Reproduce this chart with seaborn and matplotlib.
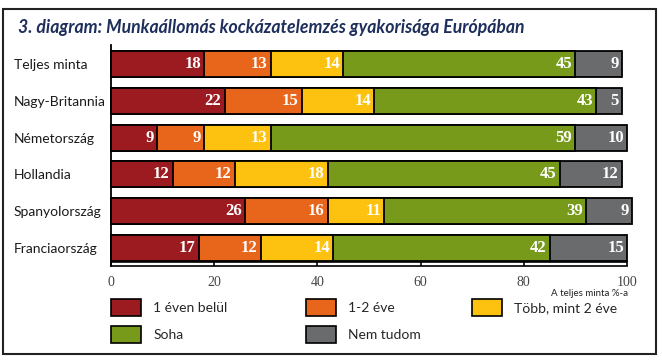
import numpy as np
import pandas as pd
import seaborn as sns
import matplotlib.pyplot as plt
from matplotlib.patches import Rectangle, Patch

# Data (% of sample)
countries = ['Teljes minta', 'Nagy-Britannia', 'Németország', 'Hollandia',
             'Spanyolország', 'Franciaország']
series = ['1 éven belül', '1-2 éve', 'Több, mint 2 éve', 'Soha', 'Nem tudom']
within_1y = [18, 22, 9, 12, 26, 17]
one_two_y = [13, 15, 9, 12, 16, 12]
more_2y = [14, 14, 13, 18, 11, 14]
never = [45, 43, 59, 45, 39, 42]
dont_know = [9, 5, 10, 12, 9, 15]
xticks = [0, 20, 40, 60, 80, 100]

colors = ['#9c1b21', '#e8661c', '#fdc110', '#779a1b', '#6a6b6d']

df = pd.DataFrame({'country': countries, series[0]: within_1y, series[1]: one_two_y,
                   series[2]: more_2y, series[3]: never, series[4]: dont_know})
cum = df[series].cumsum(axis=1)

sns.set_style('white')
plt.rcParams['font.family'] = ['Lato', 'DejaVu Sans']

fig = plt.figure(figsize=(6.62, 3.63), dpi=100)
W, H = 662, 363
ax = fig.add_axes([111 / W, 1 - 266 / H, 516 / W, 221 / H])

# stacked bars: draw cumulative totals from the largest down
for s, c in reversed(list(zip(series, colors))):
    sns.barplot(data=cum.assign(country=countries), x=s, y='country', orient='h',
                color=c, edgecolor='black', linewidth=1.3, width=0.71,
                saturation=1, ax=ax, order=countries)
for bar in ax.patches:
    bar.set_clip_on(False)

# segment labels
for i in range(len(countries)):
    for s in series:
        ax.text(cum.loc[i, s] - 0.6, i, str(df.loc[i, s]), ha='right', va='center',
                color='white', fontsize=12, fontweight='bold',
                family='Liberation Serif')

ax.set_xlim(0, 100)
ax.set_ylim(5.49, -0.52)
ax.set_xlabel('')
ax.set_ylabel('')
ax.set_xticks(xticks)
ax.set_xticklabels([str(t) for t in xticks], family='Liberation Serif',
                   fontsize=10, color='#444444')
ax.tick_params(axis='x', direction='in', length=3.5, width=1.2, color='black', pad=7,
               bottom=True)
ax.tick_params(axis='y', length=0, pad=70)
for lab in ax.get_yticklabels():
    lab.set_ha('left')
    lab.set_fontsize(10)
    lab.set_color('#1a1a1a')
ax.axhline(5.38, color='black', lw=1.2)
for side in ['top', 'right']:
    ax.spines[side].set_visible(False)
ax.spines['left'].set_color('black')
ax.spines['left'].set_linewidth(1.3)
ax.spines['bottom'].set_color('black')
ax.spines['bottom'].set_linewidth(1.2)

fig.text(628 / W, 1 - 293 / H, 'A teljes minta %-a', ha='right', va='center',
         fontsize=7, color='#222222')

fig.text(18 / W, 1 - 28 / H,
         '3. diagram: Munkaállomás kockázatelemzés gyakorisága Európában',
         ha='left', va='center', fontsize=12.7, fontweight='bold', style='italic',
         color='#1f2f5c')

# legend in three columns
handles = [Patch(facecolor=c, edgecolor='black', linewidth=1.2) for c in colors]
groups = [([0, 3], 111), ([1, 4], 306), ([2], 472)]
for idx, x0 in groups:
    leg = fig.legend([handles[k] for k in idx], [series[k] for k in idx],
                     loc='upper left', bbox_to_anchor=(x0 / W, 1 - 299 / H),
                     frameon=False, borderpad=0, borderaxespad=0, fontsize=10,
                     handlelength=2.15, handleheight=1.5, handletextpad=0.9,
                     labelspacing=0.75)

fig.patches.append(Rectangle((3 / W, 1 - 354 / H), 653 / W, 345 / H,
                             transform=fig.transFigure, fill=False,
                             edgecolor='#222222', linewidth=1.5))

fig.savefig('out.png', dpi=100)
